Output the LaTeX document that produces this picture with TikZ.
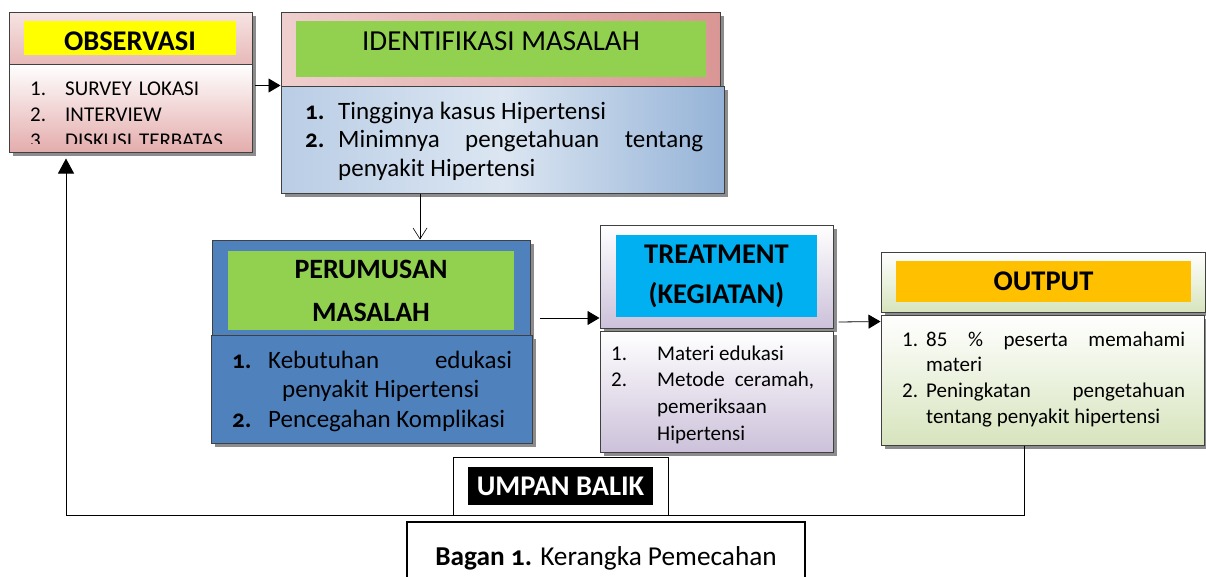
\documentclass[tikz,border=0pt]{standalone}
\usepackage{fontspec}
\setmainfont{Carlito}
\newfontfamily\olds[Numbers=OldStyle]{Carlito}
\usetikzlibrary{shadows,arrows.meta}

\definecolor{kuning}{HTML}{FFFF00}
\definecolor{hijau}{HTML}{92D050}
\definecolor{biru}{HTML}{4F81BD}
\definecolor{langit}{HTML}{00B0F0}
\definecolor{oranye}{HTML}{FFC000}
\definecolor{obsA}{HTML}{F7E4E3}
\definecolor{obsB}{HTML}{E6B9B8}
\definecolor{obsC}{HTML}{E4ACAC}
\definecolor{idA}{HTML}{EFCFCE}
\definecolor{idB}{HTML}{D99694}
\definecolor{idC}{HTML}{B9CDE5}
\definecolor{idD}{HTML}{DCE6F2}
\definecolor{idE}{HTML}{95B3D7}
\definecolor{ungu}{HTML}{CCC1DA}
\definecolor{hijauMuda}{HTML}{D7E4BD}

\hyphenpenalty=10000
\tolerance=10000
\newcommand{\li}[4][0pt]{\noindent\hangindent=\dimexpr#2+#1\relax\hangafter=1\makebox[#2][l]{#3}#4\par}
\newcommand{\nomor}{\olds\bfseries}

\begin{document}
\begin{tikzpicture}[x=1pt,y=-1pt,
    kotak/.style={draw=black!75,line width=1pt,inner sep=0pt,
      drop shadow={shadow xshift=4pt,shadow yshift=-4pt,fill=black!45,opacity=1}},
    judul/.style={inner sep=0pt,font=\bfseries\fontsize{28.5}{40}\selectfont,align=center},
    isi/.style={anchor=base west,inner sep=0pt,align=justify},
    panah/.style={line width=0.8pt,-{Triangle[length=12pt,width=14pt]}}]
  \clip (0,0) rectangle (1206,576);

  \node[kotak,top color=obsA,bottom color=obsB,minimum width=243pt,minimum height=52pt] (obsHead) at (130.5,38) {};
  \node[kotak,top color=white,bottom color=obsC,minimum width=243pt,minimum height=88pt] (obsBody) at (130.5,108) {};
  \node[judul,text height=24.5pt,fill=kuning,minimum width=212pt,minimum height=34pt] (obsTitle) at (130,38) {OBSERVASI};
  \begin{scope}
    \clip (9,64) rectangle (252,143);
    \node[isi,align=left,text width=215pt,font=\fontsize{21}{26}\selectfont] (obsList) at (30,95)
      {\li{35pt}{1.}{SURVEY LOKASI}\li{35pt}{2.}{INTERVIEW}\li{35pt}{3.}{DISKUSI TERBATAS}};
  \end{scope}

  \node[kotak,left color=idA,right color=idB,minimum width=439pt,minimum height=74pt] (idHead) at (500.5,49) {};
  \node[kotak,left color=idC,right color=idE,middle color=idD,minimum width=443pt,minimum height=107pt] (idBody) at (502.5,139.5) {};
  \node[judul,font=\fontsize{29}{35}\selectfont,text depth=15pt,fill=hijau,minimum width=410pt,minimum height=56pt] (idTitle) at (501,49) {IDENTIFIKASI MASALAH};
  \node[isi,text width=398pt,font=\fontsize{25}{28.5}\selectfont] (idList) at (305,119)
    {\li{33pt}{\nomor 1.}{Tingginya kasus Hipertensi}\li{33pt}{\nomor 2.}{Minimnya pengetahuan tentang penyakit Hipertensi}};

  \node[kotak,fill=biru,minimum width=318pt,minimum height=95pt] (perHead) at (371,287.5) {};
  \node[kotak,fill=biru,minimum width=321pt,minimum height=108pt] (perBody) at (371.5,389) {};
  \node[judul,font=\bfseries\fontsize{28}{43}\selectfont,fill=hijau,minimum width=286pt,minimum height=79pt] (perTitle) at (371,290.5) {PERUMUSAN\\MASALAH};
  \node[isi,text width=280pt,font=\fontsize{25}{29.5}\selectfont] (perList) at (232,368)
    {\li[14pt]{36pt}{\nomor 1.}{Kebutuhan edukasi penyakit Hipertensi}\li{36pt}{\nomor 2.}{Pencegahan Komplikasi}};

  \node[kotak,top color=white,bottom color=ungu,minimum width=233pt,minimum height=103pt] (trHead) at (716.5,276.5) {};
  \node[kotak,top color=white,bottom color=ungu,minimum width=233pt,minimum height=121pt] (trBody) at (716.5,391.5) {};
  \node[judul,fill=langit,minimum width=201pt,minimum height=82pt] (trTitle) at (716.5,276) {TREATMENT\\(KEGIATAN)};
  \node[isi,text width=203pt,font=\fontsize{21}{26.7}\selectfont] (trList) at (611,360)
    {\li{46pt}{1.}{Materi edukasi}\li{46pt}{2.}{Metode ceramah, pemeriksaan Hipertensi}};

  \node[kotak,top color=white,bottom color=hijauMuda,minimum width=324pt,minimum height=60pt] (outHead) at (1043,282) {};
  \node[kotak,top color=white,bottom color=hijauMuda,minimum width=323pt,minimum height=130pt] (outBody) at (1042.5,380) {};
  \node[judul,fill=oranye,minimum width=295pt,minimum height=41pt] (outTitle) at (1043.5,281.5) {OUTPUT};
  \node[isi,text width=283pt,font=\fontsize{21}{25.7}\selectfont] (outList) at (902,346)
    {\li{24pt}{1.}{85 \% peserta memahami materi}\li{24pt}{2.}{Peningkatan pengetahuan tentang penyakit hipertensi}};

  \draw[panah] ([xshift=-26pt]idBody.north west) -- (idBody.north west);
  \draw[line width=0.6pt,-{Straight Barb[length=11pt,width=14pt]}] ([xshift=-82.5pt]idBody.south) -- ([xshift=49pt]perHead.north);
  \draw[panah] ([xshift=9pt,yshift=-30.5pt]perHead.east) -- ([yshift=-41.5pt]trHead.west);
  \draw[panah] ([xshift=5pt,yshift=-45.5pt]trHead.east) -- ([yshift=-7pt]outBody.north west);
  \draw[panah,-{Triangle[length=15pt,width=16pt]}] ([xshift=-18.5pt]outBody.south) -- ++(0,70) -| ([xshift=-64.5pt,yshift=-6pt]obsBody.south);

  \node[draw,line width=1pt,fill=white,minimum width=215pt,minimum height=58pt,inner sep=0pt] (balik) at (560.5,486) {};
  \node[judul,fill=black,text=white,minimum width=185pt,minimum height=38pt] (balikText) at (560.5,486) {UMPAN BALIK};

  \node[draw,line width=2pt,minimum width=398pt,minimum height=72pt,inner sep=0pt,font=\fontsize{27.3}{30}\selectfont] (bagan) at (606,558)
    {\textbf{Bagan {\olds 1.}} Kerangka Pemecahan};
\end{tikzpicture}
\end{document}
